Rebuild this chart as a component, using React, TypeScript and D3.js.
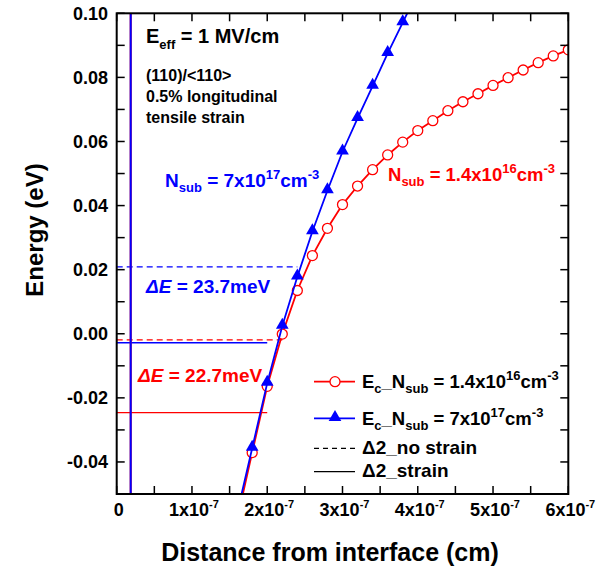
import React from "react";
import * as d3 from "d3";

// ---- data (x in units of 1e-7 cm, energy in eV) ----
const blueX = [1.6, 1.8, 2.0, 2.2, 2.4, 2.6, 2.8, 3.0, 3.2, 3.4, 3.6, 3.8, 4.0];
const blueY = [-0.056, -0.0357, -0.0154, 0.0024, 0.0178, 0.0319, 0.0447, 0.0568, 0.0672, 0.0773, 0.0875, 0.0971, 0.1067];

const redX = [1.6, 1.8, 2.0, 2.2, 2.4, 2.6, 2.8, 3.0, 3.2, 3.4, 3.6, 3.8, 4.0, 4.2, 4.4, 4.6, 4.8, 5.0, 5.2, 5.4, 5.6, 5.8, 6.0];
const redY = [-0.058, -0.0371, -0.0164, -0.0001, 0.0135, 0.0244, 0.0329, 0.0403, 0.0461, 0.0512, 0.0558, 0.0598, 0.0634, 0.0665, 0.0696, 0.0724, 0.0749, 0.0775, 0.0799, 0.0823, 0.0846, 0.0867, 0.0886];

const interfaceX = 0.186; // vertical wall
// delta-2 levels: [level, end x]
const redNoStrain = { y: -0.0019, xEnd: 2.2 };
const redStrain = { y: -0.0246, xEnd: 2.0 };
const blueNoStrain = { y: 0.0209, xEnd: 2.4 };
const blueStrain = { y: -0.0028, xEnd: 2.0 };

const xTicks = [0, 0.5, 1, 1.5, 2, 2.5, 3, 3.5, 4, 4.5, 5, 5.5, 6];
const xLabels = [0, 1, 2, 3, 4, 5, 6];
const yTicks = [-0.05, -0.04, -0.03, -0.02, -0.01, 0, 0.01, 0.02, 0.03, 0.04, 0.05, 0.06, 0.07, 0.08, 0.09, 0.1];
const yLabels = [-0.04, -0.02, 0, 0.02, 0.04, 0.06, 0.08, 0.1];

const W = 613, H = 575;
const L = 116.7, R = 568.3, T = 13.3, B = 494;
const RED = "#ff0000", BLUE = "#0000ff";
const FONT = "'Liberation Sans', Arial, sans-serif";

export default function App() {
  const x = d3.scaleLinear().domain([0, 6]).range([L, R]);
  const y = d3.scaleLinear().domain([-0.05, 0.1]).range([B, T]);
  const line = d3.line<[number, number]>().x(d => x(d[0])).y(d => y(d[1]));
  const blue = blueX.map((v, i) => [v, blueY[i]] as [number, number]);
  const red = redX.map((v, i) => [v, redY[i]] as [number, number]);
  const tri = d3.symbol().type(d3.symbolTriangle).size(70)();
  const tk = 8;

  const hline = (lv: { y: number; xEnd: number }, color: string, dashed: boolean) => (
    <line x1={x(0)} x2={x(lv.xEnd)} y1={y(lv.y)} y2={y(lv.y)} stroke={color} strokeWidth={1.3}
      strokeDasharray={dashed ? "6,4" : undefined} />
  );

  return (
    <svg width={W} height={H} style={{ position: "absolute", left: 0, top: 0, background: "#fff" }}
      fontFamily={FONT} fontWeight="bold">
      <defs>
        <clipPath id="plot"><rect x={L} y={T} width={R - L} height={B - T} /></clipPath>
      </defs>
      <rect x={0} y={0} width={W} height={H} fill="#fff" />
      <g clipPath="url(#plot)">
        {hline(blueNoStrain, BLUE, true)}
        {hline(redNoStrain, RED, true)}
        {hline(blueStrain, BLUE, false)}
        {hline(redStrain, RED, false)}
        <line x1={x(interfaceX)} x2={x(interfaceX)} y1={T} y2={B} stroke={RED} strokeWidth={2} />
        <line x1={x(interfaceX)} x2={x(interfaceX)} y1={T} y2={B} stroke={BLUE} strokeWidth={2} />
        <path d={line(red) || ""} fill="none" stroke={RED} strokeWidth={1.8} />
        {red.map((d, i) => (
          <circle key={"r" + i} cx={x(d[0])} cy={y(d[1])} r={5} fill="#fff" stroke={RED} strokeWidth={1.3} />
        ))}
        <path d={line(blue) || ""} fill="none" stroke={BLUE} strokeWidth={1.8} />
        {blue.map((d, i) => (
          <path key={"b" + i} d={tri || ""} transform={`translate(${x(d[0])},${y(d[1]) - 1})`} fill={BLUE} />
        ))}
      </g>

      {/* frame & ticks */}
      <rect x={L} y={T} width={R - L} height={B - T} fill="none" stroke="#000" strokeWidth={2} />
      {xTicks.map(t => (
        <g key={"xt" + t}>
          <line x1={x(t)} x2={x(t)} y1={B} y2={B - tk} stroke="#000" strokeWidth={1.5} />
          <line x1={x(t)} x2={x(t)} y1={T} y2={T + tk} stroke="#000" strokeWidth={1.5} />
        </g>
      ))}
      {yTicks.map(t => (
        <g key={"yt" + t}>
          <line x1={L} x2={L + tk} y1={y(t)} y2={y(t)} stroke="#000" strokeWidth={1.5} />
          <line x1={R} x2={R - tk} y1={y(t)} y2={y(t)} stroke="#000" strokeWidth={1.5} />
        </g>
      ))}
      {yLabels.map(t => (
        <text key={"yl" + t} x={108} y={y(t) + 6.5} textAnchor="end" fontSize={18}>{t.toFixed(2)}</text>
      ))}
      {xLabels.map(t => (
        t === 0 ? (
          <text key={"xl" + t} x={x(t) + 2} y={516} textAnchor="middle" fontSize={18}>0</text>
        ) : (
          <text key={"xl" + t} x={x(t) + 2} y={516} textAnchor="middle" fontSize={18}>
            {t}x10<tspan fontSize={11} dy={-8}>-7</tspan>
          </text>
        )
      ))}

      {/* axis titles */}
      <text x={330} y={561} textAnchor="middle" fontSize={25}>Distance from interface (cm)</text>
      <text transform="translate(43,230) rotate(-90)" textAnchor="middle" fontSize={24}>Energy (eV)</text>

      {/* annotations */}
      <text x={146} y={43} fontSize={20}>E<tspan fontSize={13} dy={6}>eff</tspan><tspan dy={-6}> = 1 MV/cm</tspan></text>
      <text x={146} y={81} fontSize={16}>(110)/&lt;110&gt;</text>
      <text x={146} y={102} fontSize={16}>0.5% longitudinal</text>
      <text x={146} y={123} fontSize={16}>tensile strain</text>

      <text x={165} y={187} fontSize={19} fill={BLUE}>N<tspan fontSize={13} dy={5}>sub</tspan><tspan dy={-5}> = 7x10</tspan><tspan fontSize={13} dy={-8}>17</tspan><tspan dy={8}>cm</tspan><tspan fontSize={13} dy={-8}>-3</tspan></text>
      <text x={388} y={181} fontSize={18.5} fill={RED}>N<tspan fontSize={13} dy={5}>sub</tspan><tspan dy={-5}> = 1.4x10</tspan><tspan fontSize={13} dy={-8}>16</tspan><tspan dy={8}>cm</tspan><tspan fontSize={13} dy={-8}>-3</tspan></text>

      <text x={146} y={293} fontSize={19} fill={BLUE}><tspan fontStyle="italic">ΔE</tspan> = 23.7meV</text>
      <text x={138} y={382} fontSize={19} fill={RED}><tspan fontStyle="italic">ΔE</tspan> = 22.7meV</text>

      {/* legend */}
      <line x1={314} x2={355} y1={381.7} y2={381.7} stroke={RED} strokeWidth={1.8} />
      <circle cx={335} cy={381.7} r={5} fill="#fff" stroke={RED} strokeWidth={1.3} />
      <text x={362} y={388} fontSize={18.5}>E<tspan fontSize={13} dy={5}>c</tspan><tspan dy={-5}>_N</tspan><tspan fontSize={13} dy={5}>sub</tspan><tspan dy={-5}> = 1.4x10</tspan><tspan fontSize={13} dy={-8}>16</tspan><tspan dy={8}>cm</tspan><tspan fontSize={13} dy={-8}>-3</tspan></text>

      <line x1={314} x2={355} y1={418.3} y2={418.3} stroke={BLUE} strokeWidth={1.8} />
      <path d={tri || ""} transform={`translate(335,417.3)`} fill={BLUE} />
      <text x={362} y={424.5} fontSize={18.5}>E<tspan fontSize={13} dy={5}>c</tspan><tspan dy={-5}>_N</tspan><tspan fontSize={13} dy={5}>sub</tspan><tspan dy={-5}> = 7x10</tspan><tspan fontSize={13} dy={-8}>17</tspan><tspan dy={8}>cm</tspan><tspan fontSize={13} dy={-8}>-3</tspan></text>

      <line x1={314} x2={355} y1={448.3} y2={448.3} stroke="#000" strokeWidth={1.3} strokeDasharray="5,4" />
      <text x={362} y={454} fontSize={19}>Δ2_no strain</text>
      <line x1={314} x2={355} y1={471.7} y2={471.7} stroke="#000" strokeWidth={1.3} />
      <text x={362} y={477} fontSize={19}>Δ2_strain</text>
    </svg>
  );
}
